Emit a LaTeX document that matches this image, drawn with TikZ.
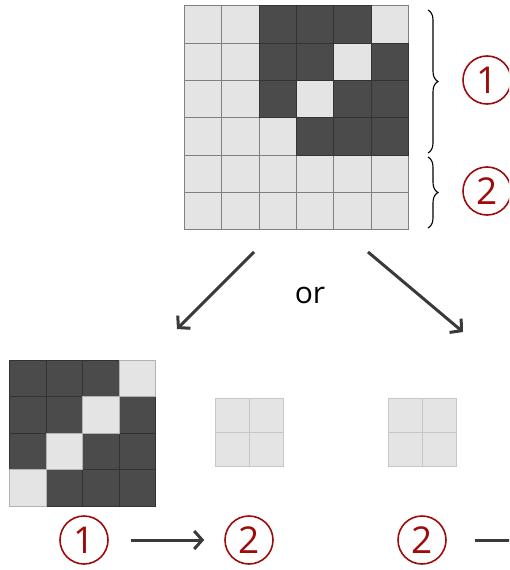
\documentclass[tikz,border=0pt]{standalone}
\usepackage{fontspec}
\setmainfont{Open Sans}
\usetikzlibrary{arrows.meta,positioning,decorations.pathreplacing}
\definecolor{cellon}{HTML}{4B4B4B}
\definecolor{celloff}{HTML}{E4E4E4}
\definecolor{tagred}{HTML}{9E0B0B}
\definecolor{pen}{HTML}{3A3A3A}
\tikzset{
  darkcell/.style = {fill=cellon, draw=black!80, line width=0.8pt},
  lightcell/.style = {fill=celloff, draw=black!50, line width=0.8pt},
  palecell/.style = {fill=celloff, draw=black!22, line width=1pt},
  tag/.style = {draw=tagred, text=tagred, circle, line width=1.6pt, minimum size=48pt, inner sep=0pt, font=\fontsize{37}{42}\selectfont},
  arrow/.style = {pen, line width=3pt, -{Straight Barb[length=8pt,width=18pt]}},
  brace/.style = {decorate, decoration={brace, amplitude=10pt}, line width=1.1pt}
}
\begin{document}
\begin{tikzpicture}[x=1pt, y=-1pt]
  \clip (0,0) rectangle (509,570);
  % top 6x6 block
  \foreach \r in {0,...,5}
    \foreach \c in {0,...,5}
      \draw[lightcell] (184.5+37.3*\c, 5.7+37.3*\r) rectangle ++(37.3,37.3);
  \foreach \r/\c in {0/2,0/3,0/4,1/2,1/3,1/5,2/2,2/4,2/5,3/3,3/4,3/5}
    \draw[darkcell] (184.5+37.3*\c, 5.7+37.3*\r) rectangle ++(37.3,37.3);
  \draw[brace] (428,10) -- (428,153);
  \draw[brace] (428,157) -- (428,228);
  \node[tag] (t1) at (487,80) {1};
  \node[tag] (t2) at (487,191) {2};

  % the split
  \node[font=\fontsize{30}{36}\selectfont] (or) at (310,295) {or};
  \coordinate (fromL) at (254,252);
  \coordinate (toL) at (177,329);
  \coordinate (fromR) at (368,252);
  \coordinate (toR) at (463,332);
  \draw[arrow] (fromL) -- (toL);
  \draw[arrow] (fromR) -- (toR);

  % left: 1 then 2
  \foreach \r in {0,...,3}
    \foreach \c in {0,...,3}
      \draw[darkcell] (9.3+36.6*\c, 360+36.6*\r) rectangle ++(36.6,36.6);
  \foreach \r/\c in {0/3,1/2,2/1,3/0}
    \draw[lightcell, draw=black!30] (9.3+36.6*\c, 360+36.6*\r) rectangle ++(36.6,36.6);
  \foreach \r in {0,1}
    \foreach \c in {0,1}
      \draw[palecell] (215+34*\c, 398+34*\r) rectangle ++(34,34);
  \node[tag] (b1) at (84,540) {1};
  \node[tag] (b2) at (249,540) {2};
  \draw[arrow, shorten <=22pt, shorten >=20pt] (b1) -- (b2);

  % right: 2 then 1
  \foreach \r in {0,1}
    \foreach \c in {0,1}
      \draw[palecell] (388+34*\c, 398+34*\r) rectangle ++(34,34);
  \node[tag] (b3) at (422,540) {2};
  \coordinate (b4) at (560,540);
  \draw[arrow, shorten <=28pt] (b3) -- (b4);
\end{tikzpicture}
\end{document}
